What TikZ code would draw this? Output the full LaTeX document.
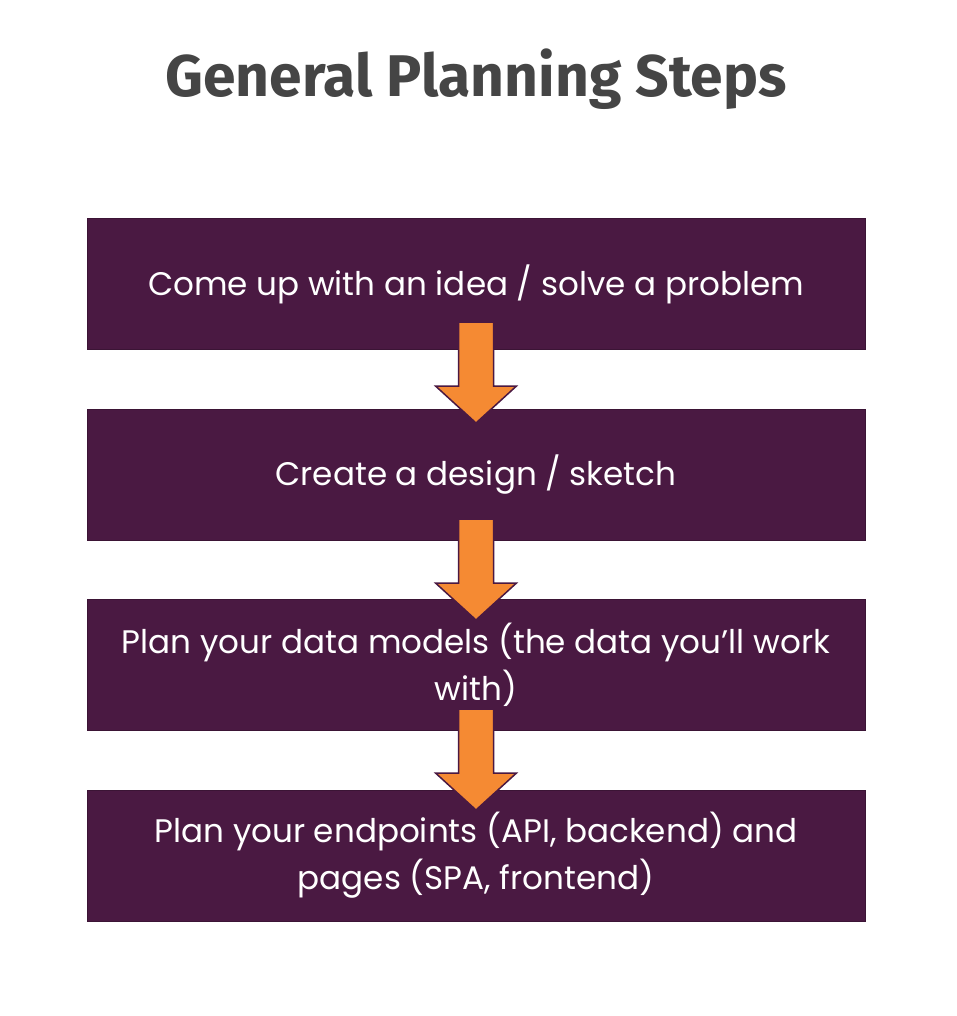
\documentclass[tikz,border=0pt]{standalone}
\usepackage{fontspec}
\setmainfont{Poppins}
\newfontfamily\titlefont{Fira Sans}[UprightFont=* Bold]
\usetikzlibrary{calc}
\definecolor{boxpurple}{HTML}{4A1942}
\definecolor{arroworange}{HTML}{F58A33}
\definecolor{titlegray}{HTML}{454545}
\tikzset{
  stepbox/.style={draw=boxpurple!80!black, line width=0.8pt, fill=boxpurple, minimum width=778pt, minimum height=131pt, inner sep=0pt, text=white, align=center, font=\fontsize{32.6}{47}\selectfont},
  downarrow/.style={fill=arroworange, draw=boxpurple, line width=1.5pt, line join=miter}
}
\newcommand{\downarr}[2]{% x center, top y
  \draw[downarrow] (#1-17.5,#2) -- (#1+17.5,#2) -- (#1+17.5,#2-64) -- (#1+40.5,#2-64) -- (#1,#2-101) -- (#1-40.5,#2-64) -- (#1-17.5,#2-64) -- cycle;
}
\begin{document}
\begin{tikzpicture}[x=1pt,y=1pt]
\useasboundingbox (0,0) rectangle (956,-1016);
\fill[white] (0,0) rectangle (956,-1016);
\node[text=titlegray, font=\titlefont\fontsize{58.8}{68}\selectfont] (title) at (476,-79) {General Planning Steps};
\node[stepbox] (b1) at (476,-284) {Come up with an idea / solve a problem};
\node[stepbox] (b2) at (476,-474.5) {Create a design / sketch};
\node[stepbox] (b3) at (476,-664.5) {Plan your data models (the data you’ll work\\with)};
\node[stepbox] (b4) at (476,-855.5) {Plan your endpoints (API, backend) and\\pages (SPA, frontend)};
\downarr{476}{-322}
\downarr{476}{-519}
\downarr{476}{-709}
\end{tikzpicture}
\end{document}
